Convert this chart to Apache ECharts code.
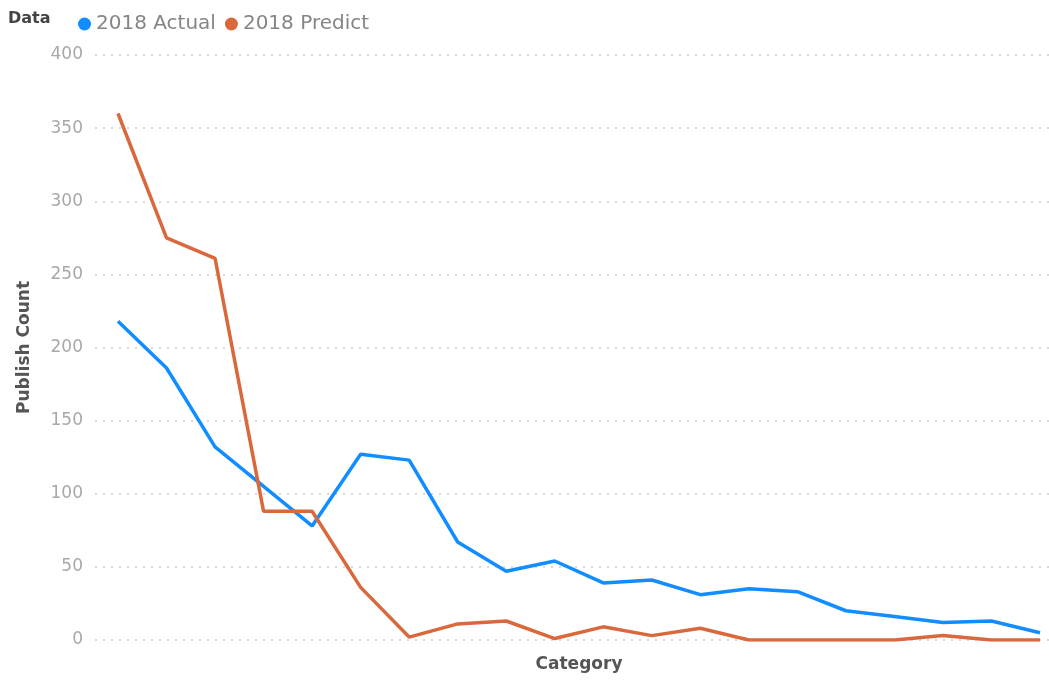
<!DOCTYPE html>
<html>
<head>
<meta charset="utf-8">
<script src="https://cdn.jsdelivr.net/npm/echarts@6/dist/echarts.min.js"></script>
<style>
  html, body { margin: 0; padding: 0; background: #fff; }
  #chart { width: 1049px; height: 680px; }
</style>
</head>
<body>
<div id="chart"></div>
<script>
// Twenty categories along the x axis (labels are not shown on the axis)
const categories = ['1','2','3','4','5','6','7','8','9','10','11','12','13','14','15','16','17','18','19','20'];
const actual2018  = [218, 186, 132, 105, 78, 127, 123, 67, 47, 54, 39, 41, 31, 35, 33, 20, 16, 12, 13, 5];
const predict2018 = [360, 275, 261, 88, 88, 36, 2, 11, 13, 1, 9, 3, 8, 0, 0, 0, 0, 3, 0, 0];
const yTicks = { min: 0, max: 400, step: 50 };

const FONT = '"DejaVu Sans", "Open Sans", sans-serif';
const BLUE = '#118DFF';
const ORANGE = '#D9683C';

const chart = echarts.init(document.getElementById('chart'), null, { renderer: 'canvas' });

chart.setOption({
  animation: false,
  textStyle: { fontFamily: FONT },
  graphic: [{
    type: 'text', left: 8, top: 11,
    style: { text: 'Data', font: 'bold 16px ' + FONT, fill: '#444' }
  }],
  legend: {
    left: 73, top: 9,
    icon: 'circle', itemWidth: 13, itemHeight: 13, itemGap: 9,
    textStyle: { fontFamily: FONT, fontSize: 20, color: '#858585' },
    data: ['2018 Actual', '2018 Predict']
  },
  grid: [
    // gridlines and value labels span the full plot width
    { left: 95, right: 0, top: 55, bottom: 40 },
    // data area
    { left: 118, right: 9, top: 55, bottom: 40 }
  ],
  xAxis: [
    { gridIndex: 0, type: 'value', show: false, min: 0, max: 1 },
    {
      gridIndex: 1, type: 'category', data: categories, boundaryGap: false,
      axisLine: { show: false }, axisTick: { show: false }, axisLabel: { show: false },
      name: 'Category', nameLocation: 'middle', nameGap: 16,
      nameTextStyle: { fontFamily: FONT, fontSize: 17, color: '#555', fontWeight: 'bold' }
    }
  ],
  yAxis: [
    {
      gridIndex: 0, type: 'value', min: yTicks.min, max: yTicks.max, interval: yTicks.step,
      axisLine: { show: false }, axisTick: { show: false },
      axisLabel: { fontFamily: FONT, fontSize: 17, color: '#a8a8a8', margin: 12 },
      splitLine: { show: true, lineStyle: { color: '#d8d8d8', type: [2, 6], width: 2 } },
      name: 'Publish Count', nameLocation: 'middle', nameRotate: 90, nameGap: 62,
      nameTextStyle: { fontFamily: FONT, fontSize: 17, color: '#555', fontWeight: 'bold' }
    },
    {
      gridIndex: 1, type: 'value', min: yTicks.min, max: yTicks.max, interval: yTicks.step,
      show: false, splitLine: { show: false }
    }
  ],
  series: [
    {
      name: '2018 Actual', type: 'line', xAxisIndex: 1, yAxisIndex: 1,
      data: actual2018, showSymbol: false, symbol: 'circle',
      lineStyle: { color: BLUE, width: 3.5 }, itemStyle: { color: BLUE }
    },
    {
      name: '2018 Predict', type: 'line', xAxisIndex: 1, yAxisIndex: 1,
      data: predict2018, showSymbol: false, symbol: 'circle',
      lineStyle: { color: ORANGE, width: 3.5 }, itemStyle: { color: ORANGE }
    }
  ]
});
</script>
</body>
</html>
